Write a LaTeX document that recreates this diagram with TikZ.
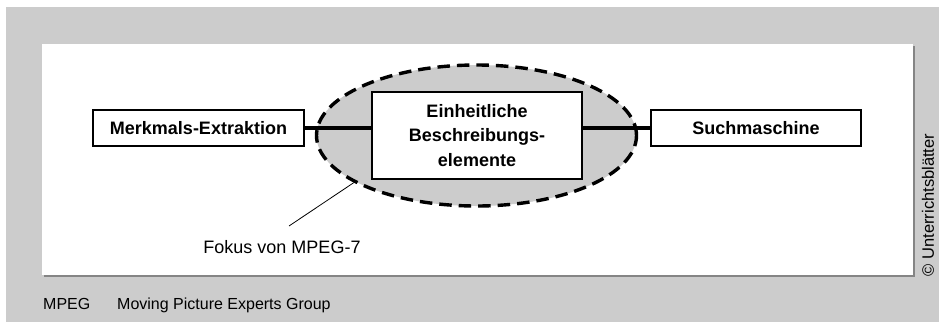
\documentclass[tikz,border=0pt]{standalone}
\usepackage{fontspec}
\setmainfont{Liberation Sans}
\usetikzlibrary{shapes.geometric}
\definecolor{panelgray}{HTML}{CCCCCC}
\definecolor{shadowgray}{HTML}{858585}
\begin{document}
\begin{tikzpicture}[x=1pt,y=-1pt,
  box/.style={draw=black, line width=1.3pt, fill=white, inner sep=0pt,
    minimum width=211pt, font=\fontsize{18}{24.5}\selectfont\bfseries, align=center},
  link/.style={line width=3.2pt},
  focus/.style={ellipse, draw=black, fill=panelgray, line width=3.4pt,
    dash pattern=on 12.5pt off 7pt, minimum width=320pt, minimum height=141pt, inner sep=0pt},
  note/.style={font=\fontsize{18}{22}\selectfont, inner sep=0pt},
  foot/.style={font=\fontsize{16}{20}\selectfont, inner sep=0pt, anchor=base west}]
  \useasboundingbox (0,0) rectangle (939,322);
  % frame
  \fill[panelgray] (6,7) rectangle (939,322);
  \fill[shadowgray] (44,46) rectangle (915,277);
  \fill[white] (42,44) rectangle (913,275);
  % focus area
  \node[focus] (ell) at (476.5,135.5) {};
  % boxes
  \node[box, minimum height=36pt] (merk) at (198.5,128) {Merkmals-Extraktion};
  \node[box, minimum width=210pt, minimum height=36pt] (such) at (756,128) {Suchmaschine};
  \node[box, minimum width=210pt, minimum height=87pt] (mid) at (477,135.5)
    {Einheitliche\\Beschreibungs-\\elemente};
  % connectors
  \draw[link] (merk.east) -- (merk.east -| mid.west);
  \draw[link] (such.west -| mid.east) -- (such.west);
  % label with leader line
  \node[note] (fok) at (282,247) {Fokus von MPEG-7};
  \coordinate (lead) at (289,226);
  \draw[line width=0.8pt] (lead) -- (ell.201.8);
  % footer and credit
  \node[foot] (abbr) at (43,309) {MPEG};
  \node[foot] (expl) at (117,309) {Moving Picture Experts Group};
  \node[font=\fontsize{16.5}{20}\selectfont, inner sep=0pt, rotate=90] (credit) at (928,205)
    {© Unterrichtsblätter};
\end{tikzpicture}
\end{document}
